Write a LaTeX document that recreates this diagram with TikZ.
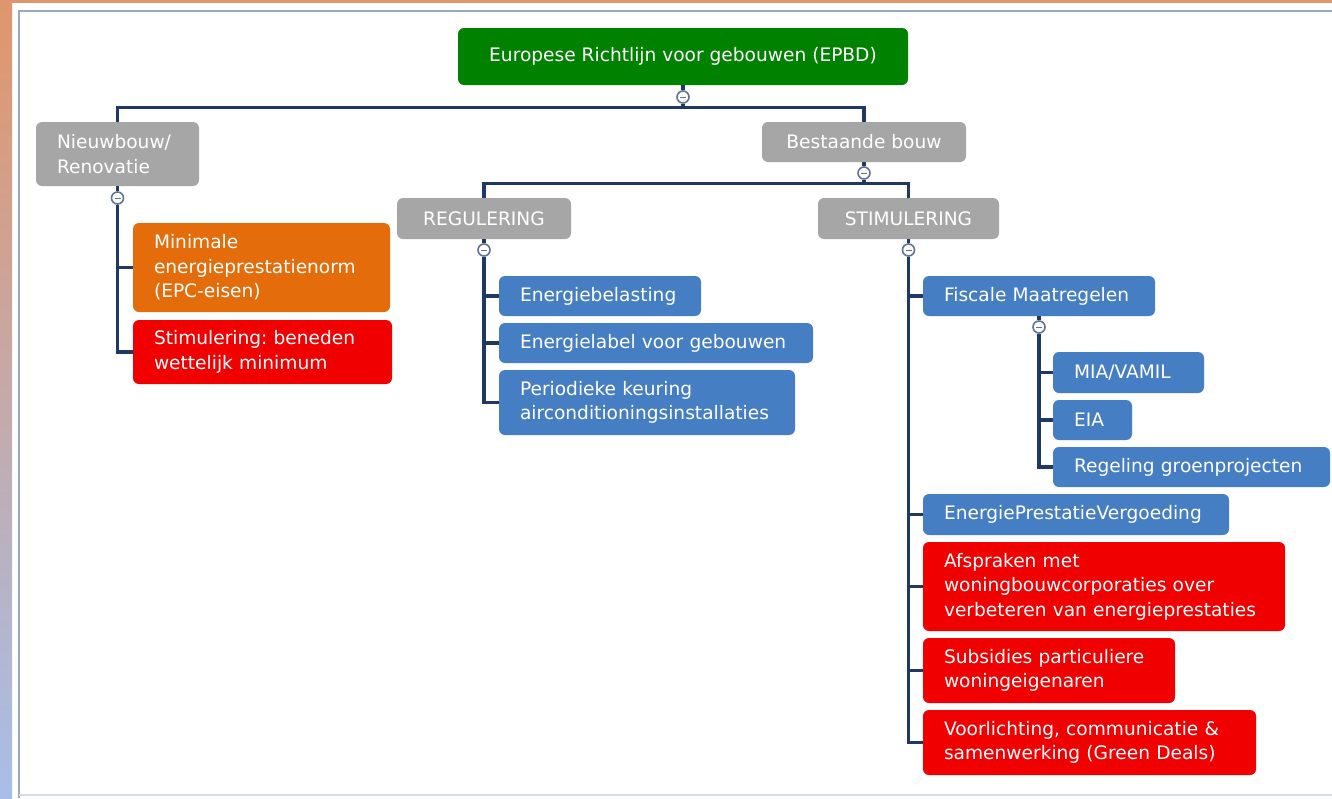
\documentclass[tikz,border=0pt]{standalone}
\usepackage{fontspec}
\setmainfont{DejaVu Sans}
\frenchspacing
\definecolor{cgreen}{RGB}{0,130,0}
\definecolor{cgrey}{RGB}{166,166,166}
\definecolor{corange}{RGB}{228,108,10}
\definecolor{cred}{RGB}{240,0,0}
\definecolor{cblue}{RGB}{70,126,196}
\definecolor{cnavy}{RGB}{32,56,100}
\definecolor{ctog}{RGB}{95,115,150}
\definecolor{cframe}{RGB}{150,170,192}
\definecolor{cstriptop}{RGB}{224,150,108}
\definecolor{cstripbot}{RGB}{168,190,232}
\begin{document}
\begin{tikzpicture}[x=0.5pt,y=-0.5pt,
  box/.style={rounded corners=3pt, text=white, inner xsep=10.5pt, inner ysep=0pt,
    font=\fontsize{9.3}{12.3}\selectfont\frenchspacing},
  cbox/.style={box, align=center},
  lbox/.style={box, align=left},
  conn/.style={draw=cnavy, line width=1.6pt},
  tog/.style={circle, draw=ctog, fill=white, line width=0.8pt, minimum size=6pt, inner sep=0pt},
]
\useasboundingbox (0,0) rectangle (1332,798);
\fill[white] (0,0) rectangle (1332,798);
\shade[top color=cstriptop, bottom color=cstripbot] (0,0) rectangle (12,798);
\fill[cstriptop] (0,0) rectangle (1332,3);
\draw[cframe, line width=1pt] (19,798) -- (19,11) -- (1332,11);
\draw[cframe!40, line width=0.8pt] (19,795) -- (1332,795);

% level 0
\node[cbox, fill=cgreen, minimum width=225pt, minimum height=28.5pt] (root) at (683,56.5) {Europese Richtlijn voor gebouwen (EPBD)};
\node[tog] (c0) at (683,97) {\color{ctog}\rule[0pt]{3pt}{0.5pt}};

% level 1
\node[lbox, fill=cgrey, minimum width=81.5pt, text width=60.5pt, minimum height=32pt] (nieuw) at (117.5,154) {Nieuwbouw/\\Renovatie};
\node[cbox, fill=cgrey, minimum width=102pt, minimum height=20pt] (best) at (864,142) {Bestaande bouw};
\node[tog] (c1) at (117.5,198) {\color{ctog}\rule[0pt]{3pt}{0.5pt}};
\node[tog] (c2) at (864,173) {\color{ctog}\rule[0pt]{3pt}{0.5pt}};

% Nieuwbouw children
\node[lbox, fill=corange, minimum width=128.5pt, text width=107.5pt, minimum height=44.5pt] (epc) at (261.5,267.5) {Minimale\\energieprestatienorm\\(EPC-eisen)};
\node[lbox, fill=cred, minimum width=129.5pt, text width=108.5pt, minimum height=32pt] (stimmin) at (262.5,352) {Stimulering: beneden\\wettelijk minimum};

% level 2
\node[cbox, fill=cgrey, minimum width=87pt, minimum height=20.5pt] (reg) at (484,218.5) {REGULERING};
\node[cbox, fill=cgrey, minimum width=90.5pt, minimum height=20.5pt] (stim) at (908.5,218.5) {STIMULERING};
\node[tog] (c3) at (484,250) {\color{ctog}\rule[0pt]{3pt}{0.5pt}};
\node[tog] (c4) at (908.5,250) {\color{ctog}\rule[0pt]{3pt}{0.5pt}};

% Regulering children
\node[lbox, fill=cblue, minimum width=101pt, text width=80pt, minimum height=20pt] (ebel) at (600,296) {Energiebelasting};
\node[lbox, fill=cblue, minimum width=157pt, text width=136pt, minimum height=20pt] (elab) at (656,343) {Energielabel voor gebouwen};
\node[lbox, fill=cblue, minimum width=148pt, text width=127pt, minimum height=32.5pt] (perio) at (647,402.5) {Periodieke keuring\\airconditioningsinstallaties};

% Stimulering children
\node[lbox, fill=cblue, minimum width=116pt, text width=95pt, minimum height=20pt] (fisc) at (1039,296) {Fiscale Maatregelen};
\node[tog] (c5) at (1039,327) {\color{ctog}\rule[0pt]{3pt}{0.5pt}};
\node[lbox, fill=cblue, minimum width=75.5pt, text width=54.5pt, minimum height=20.5pt] (mia) at (1128.5,372.5) {MIA/VAMIL};
\node[lbox, fill=cblue, minimum width=39.5pt, text width=18.5pt, minimum height=20pt] (eia) at (1092.5,420) {EIA};
\node[lbox, fill=cblue, minimum width=138.5pt, text width=117.5pt, minimum height=20pt] (groen) at (1191.5,467) {Regeling groenprojecten};
\node[lbox, fill=cblue, minimum width=153pt, text width=132pt, minimum height=20.5pt] (epv) at (1076,514.5) {EnergiePrestatieVergoeding};
\node[lbox, fill=cred, minimum width=181pt, text width=160pt, minimum height=44.5pt] (afspr) at (1104,586.5) {Afspraken met\\woningbouwcorporaties over\\verbeteren van energieprestaties};
\node[lbox, fill=cred, minimum width=126pt, text width=105pt, minimum height=32.5pt] (subs) at (1049,670.5) {Subsidies particuliere\\woningeigenaren};
\node[lbox, fill=cred, minimum width=166.5pt, text width=145.5pt, minimum height=32.5pt] (voor) at (1089.5,742.5) {Voorlichting, communicatie \&\\samenwerking (Green Deals)};

% connectors
\draw[conn] (root) -- (c0);
\draw[conn] (c0.south) -- ++(0,4) -| (nieuw.north);
\draw[conn] (c0.south) -- ++(0,4) -| (best.north);
\draw[conn] (nieuw) -- (c1);
\draw[conn] (c1.south) |- (epc.west);
\draw[conn] (c1.south) |- (stimmin.west);
\draw[conn] (best) -- (c2);
\draw[conn] (c2.south) -- ++(0,4) -| (reg.north);
\draw[conn] (c2.south) -- ++(0,4) -| (stim.north);
\draw[conn] (reg) -- (c3);
\draw[conn] (c3.south) |- (ebel.west);
\draw[conn] (c3.south) |- (elab.west);
\draw[conn] (c3.south) |- (perio.west);
\draw[conn] (stim) -- (c4);
\draw[conn] (c4.south) |- (fisc.west);
\draw[conn] (c4.south) |- (epv.west);
\draw[conn] (c4.south) |- (afspr.west);
\draw[conn] (c4.south) |- (subs.west);
\draw[conn] (c4.south) |- (voor.west);
\draw[conn] (fisc) -- (c5);
\draw[conn] (c5.south) |- (mia.west);
\draw[conn] (c5.south) |- (eia.west);
\draw[conn] (c5.south) |- (groen.west);
\end{tikzpicture}
\end{document}
